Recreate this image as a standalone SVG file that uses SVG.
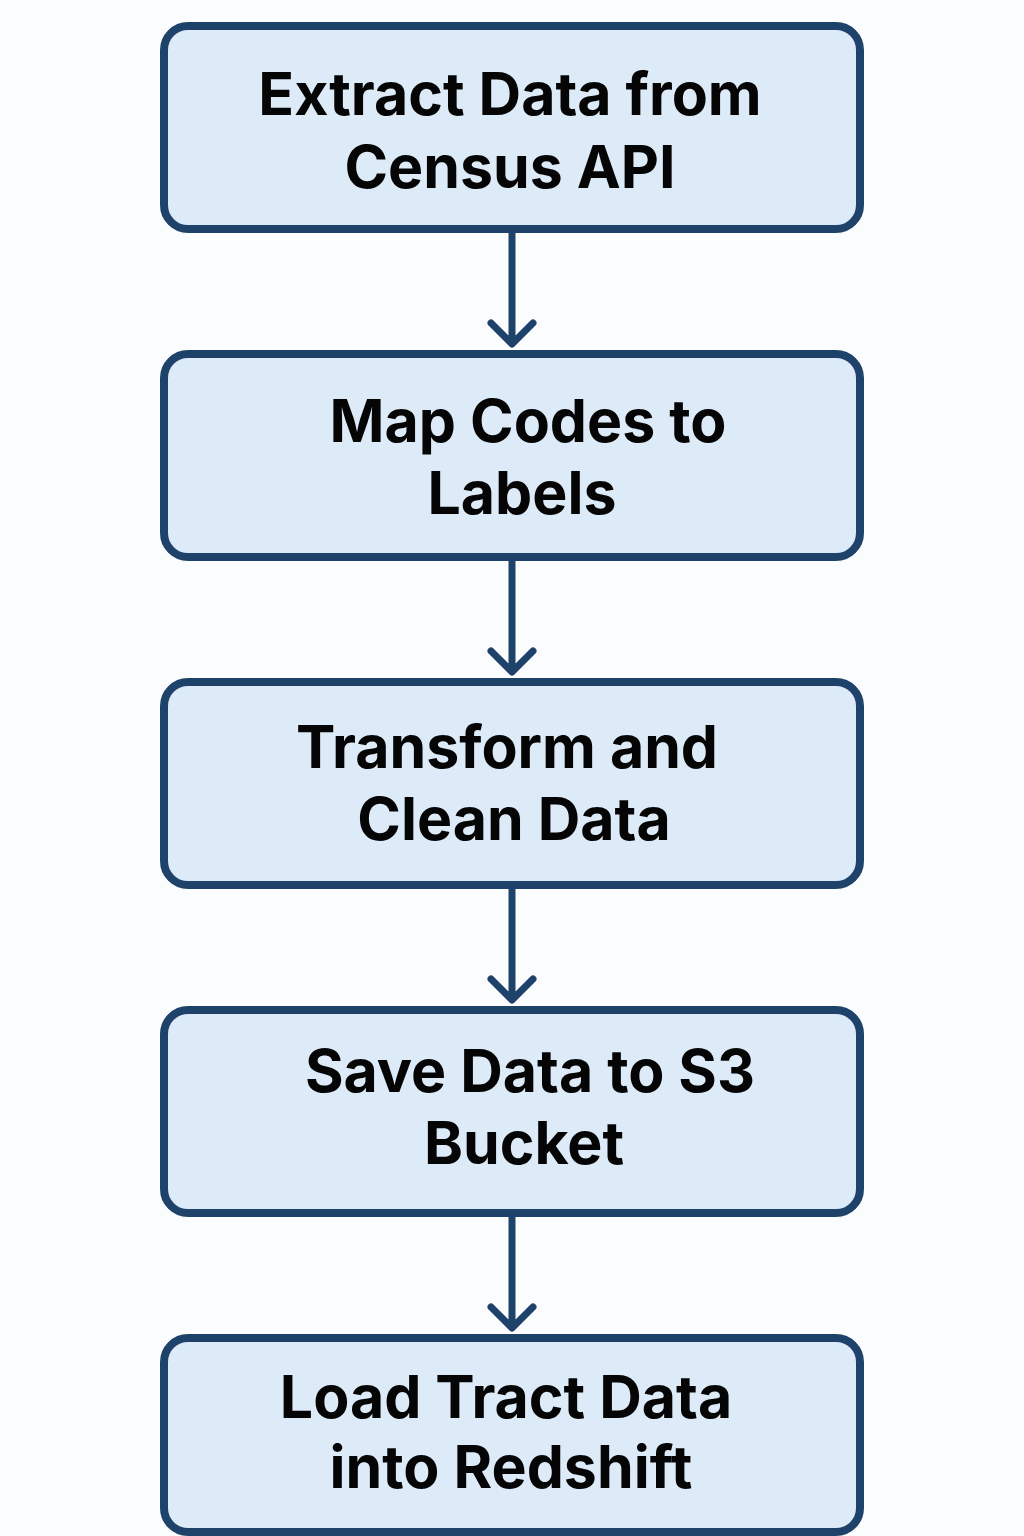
<svg xmlns="http://www.w3.org/2000/svg" width="1024" height="1536" viewBox="0 0 1024 1536">
<defs>
<style>
.box{fill:#ddebf8;stroke:#1f426a;stroke-width:8}
.lbl{font-family:Inter,"Liberation Sans",sans-serif;font-weight:700;font-size:59px;fill:#050505;text-anchor:middle}
.edge{stroke:#1f426a;stroke-width:7;fill:none;stroke-linecap:round;stroke-linejoin:round}
</style>
</defs>
<rect width="1024" height="1536" fill="#fbfcfd"/>
<g id="connectors">
<path class="edge" d="M512 233V343M491 323L512 344L533 323"/>
<path class="edge" d="M512 561V671M491 651L512 672L533 651"/>
<path class="edge" d="M512 889V999M491 979L512 1000L533 979"/>
<path class="edge" d="M512 1217V1327M491 1307L512 1328L533 1307"/>
</g>
<g id="n1"><rect class="box" x="164" y="26" width="696" height="203" rx="24"/>
<text class="lbl" x="510" y="115">Extract Data from</text><text class="lbl" x="510" y="188">Census API</text></g>
<g id="n2"><rect class="box" x="164" y="354" width="696" height="203" rx="24"/>
<text class="lbl" x="528" y="442">Map Codes to</text><text class="lbl" x="522" y="514">Labels</text></g>
<g id="n3"><rect class="box" x="164" y="682" width="696" height="203" rx="24"/>
<text class="lbl" x="507" y="768">Transform and</text><text class="lbl" x="514" y="840">Clean Data</text></g>
<g id="n4"><rect class="box" x="164" y="1010" width="696" height="203" rx="24"/>
<text class="lbl" x="530" y="1092">Save Data to S3</text><text class="lbl" x="524" y="1164">Bucket</text></g>
<g id="n5"><rect class="box" x="164" y="1338" width="696" height="194" rx="24"/>
<text class="lbl" x="506" y="1418">Load Tract Data</text><text class="lbl" x="511" y="1488">into Redshift</text></g>
</svg>
